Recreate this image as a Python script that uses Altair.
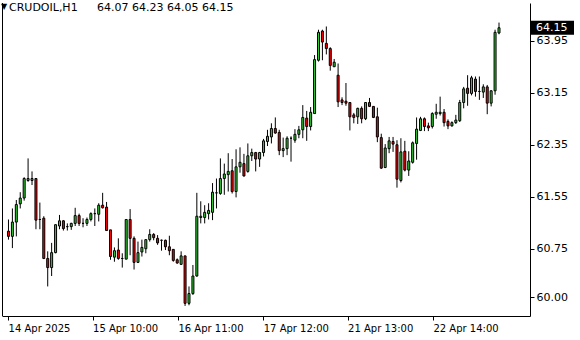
import altair as alt
import pandas as pd
import numpy as np

opens = [61.02, 60.94, 61.16, 61.44, 61.53, 61.80, 61.80, 61.83, 61.20, 61.22,
         60.60, 60.46, 60.69, 61.10, 61.18, 61.09, 61.09, 61.14, 61.26, 61.14,
         61.14, 61.20, 61.29, 61.28, 61.42, 61.39, 61.04, 60.62, 60.73, 60.60,
         60.59, 61.20, 60.91, 60.54, 60.70, 60.75, 60.89, 60.97, 60.91, 60.88,
         60.88, 60.78, 60.74, 60.58, 60.51, 60.64, 59.91, 60.06, 60.33, 61.23,
         61.23, 61.29, 61.31, 61.61, 61.60, 61.83, 61.89, 61.95, 61.63, 62.01,
         62.06, 61.94, 62.18, 62.23, 62.13, 62.23, 62.40, 62.47, 62.60, 62.54,
         62.26, 62.29, 62.45, 62.42, 62.51, 62.58, 62.76, 62.63, 62.83, 63.65,
         64.10, 63.91, 63.83, 63.55, 63.42, 63.04, 63.02, 63.00, 62.81, 62.78,
         62.91, 62.75, 63.00, 62.94, 62.78, 62.46, 62.00, 62.29, 62.40, 62.35,
         61.80, 62.25, 61.96, 62.08, 62.37, 62.57, 62.75, 62.64, 62.63, 62.82,
         62.83, 62.85, 62.71, 62.64, 62.69, 62.72, 63.00, 63.22, 63.14, 63.36,
         63.17, 63.16, 63.24, 62.99, 63.18, 64.07]
highs = [61.20, 61.37, 61.50, 61.62, 61.85, 62.14, 61.94, 61.83, 61.46, 61.25,
         60.71, 60.84, 61.12, 61.27, 61.19, 61.14, 61.15, 61.38, 61.29, 61.22,
         61.23, 61.31, 61.37, 61.45, 61.61, 61.47, 61.04, 60.77, 60.91, 60.68,
         61.20, 61.36, 60.94, 60.86, 60.89, 60.89, 61.05, 60.99, 60.96, 60.89,
         60.89, 60.95, 60.74, 60.60, 60.71, 60.64, 60.17, 60.50, 61.61, 61.48,
         61.42, 61.45, 61.76, 61.83, 62.14, 62.06, 62.22, 62.13, 62.28, 62.31,
         62.21, 62.37, 62.29, 62.24, 62.24, 62.44, 62.58, 62.68, 62.77, 62.58,
         62.46, 62.48, 62.48, 62.59, 62.64, 62.96, 62.87, 62.93, 63.73, 64.12,
         64.12, 64.17, 63.85, 63.67, 63.60, 63.08, 63.30, 63.00, 62.84, 62.92,
         62.94, 63.00, 63.07, 62.94, 62.92, 62.52, 62.36, 62.47, 62.47, 62.42,
         62.45, 62.41, 62.25, 62.40, 62.77, 62.78, 62.77, 62.69, 62.85, 62.98,
         63.09, 62.90, 62.74, 62.71, 62.81, 63.04, 63.24, 63.42, 63.41, 63.40,
         63.40, 63.28, 63.27, 63.19, 64.12, 64.23]
lows = [60.89, 60.76, 60.94, 61.37, 61.49, 61.78, 61.73, 61.05, 61.05, 60.59,
        60.17, 60.33, 60.68, 61.05, 61.03, 61.03, 61.04, 61.10, 61.10, 61.08,
        61.10, 61.17, 61.10, 61.17, 61.37, 61.03, 60.58, 60.55, 60.58, 60.46,
        60.59, 60.65, 60.43, 60.53, 60.63, 60.68, 60.86, 60.88, 60.81, 60.72,
        60.73, 60.65, 60.55, 60.52, 60.50, 59.87, 59.88, 60.04, 60.32, 61.14,
        61.14, 61.20, 61.19, 61.37, 61.58, 61.58, 61.63, 61.60, 61.54, 61.92,
        61.86, 61.92, 62.10, 61.94, 62.01, 62.17, 62.33, 62.37, 62.52, 62.19,
        62.16, 62.19, 62.09, 62.38, 62.45, 62.45, 62.41, 62.57, 62.83, 63.63,
        63.65, 63.74, 63.49, 63.55, 62.93, 62.96, 62.95, 62.57, 62.68, 62.67,
        62.68, 62.73, 62.93, 62.76, 62.39, 61.98, 61.99, 62.22, 62.24, 61.69,
        61.77, 61.94, 61.87, 62.06, 62.12, 62.56, 62.56, 62.56, 62.60, 62.75,
        62.80, 62.63, 62.59, 62.63, 62.67, 62.70, 62.91, 62.95, 63.11, 63.09,
        63.04, 63.07, 62.82, 62.94, 63.12, 64.05]
closes = [60.94, 61.16, 61.43, 61.53, 61.83, 61.83, 61.83, 61.19, 61.20, 60.60,
          60.46, 60.69, 61.12, 61.18, 61.06, 61.09, 61.14, 61.26, 61.14, 61.14,
          61.20, 61.29, 61.29, 61.42, 61.38, 61.03, 60.63, 60.72, 60.60, 60.60,
          61.20, 60.91, 60.54, 60.69, 60.77, 60.89, 60.97, 60.92, 60.84, 60.88,
          60.78, 60.72, 60.57, 60.53, 60.64, 59.91, 60.06, 60.33, 61.25, 61.25,
          61.31, 61.34, 61.62, 61.61, 61.83, 61.90, 61.94, 61.63, 62.01, 62.08,
          61.87, 62.18, 62.23, 62.13, 62.23, 62.41, 62.48, 62.60, 62.53, 62.26,
          62.29, 62.45, 62.45, 62.51, 62.58, 62.77, 62.63, 62.85, 63.66, 64.08,
          63.93, 63.83, 63.57, 63.62, 63.01, 63.00, 62.99, 62.78, 62.77, 62.91,
          62.75, 63.00, 62.94, 62.77, 62.47, 61.99, 62.30, 62.41, 62.36, 61.82,
          62.24, 61.96, 62.10, 62.38, 62.59, 62.75, 62.63, 62.61, 62.83, 62.85,
          62.85, 62.69, 62.64, 62.69, 62.73, 63.00, 63.21, 63.14, 63.38, 63.17,
          63.17, 63.24, 62.99, 63.18, 64.08, 64.15]

tick_pos = [-0.1, 21.42, 43.17, 64.92, 86.42, 108.17]
tick_labels = ["14 Apr 2025", "15 Apr 10:00", "16 Apr 11:00", "17 Apr 12:00",
               "21 Apr 13:00", "22 Apr 14:00"]
price_ticks = [60.00, 60.75, 61.55, 62.35, 63.15, 63.95]
symbol = "CRUDOIL,H1"
ohlc_text = "64.07 64.23 64.05 64.15"
last_price = 64.15

GREEN = "#32cd32"
RED = "#ff0000"
FONT = "DejaVu Sans"

df = pd.DataFrame({"i": np.arange(len(opens)), "open": opens, "high": highs,
                   "low": lows, "close": closes})
df["dir"] = np.where(df["close"] > df["open"], "up",
                     np.where(df["close"] < df["open"], "down", "flat"))

W, H = 528, 313
X0 = -0.375
xs = alt.Scale(domain=[X0, X0 + W / 4.0], nice=False, zero=False)
ys = alt.Scale(domain=[59.715, 64.531], nice=False, zero=False)

label_expr = "{}[indexof({}, datum.value)]".format(
    "[" + ",".join("'%s'" % t for t in tick_labels) + "]",
    "[" + ",".join(str(p) for p in tick_pos) + "]")

x_axis = alt.Axis(values=tick_pos, labelExpr=label_expr, title=None, grid=False,
                  domainColor="black", tickColor="black", tickSize=4,
                  labelAlign="left", labelFont=FONT, labelFontSize=10,
                  labelColor="black", labelPadding=3, labelFlush=False,
                  labelOverlap=False)
y_axis = alt.Axis(values=price_ticks, format=".2f", orient="right", title=None,
                  grid=False, domainColor="black", tickColor="black", tickSize=4,
                  labelFont=FONT, labelFontSize=11, labelColor="black",
                  labelPadding=2, labelFlush=False, labelOverlap=False)

base = alt.Chart(df)
wicks = base.mark_rule(color="black", strokeWidth=1).encode(
    x=alt.X("i:Q", scale=xs, axis=x_axis),
    y=alt.Y("low:Q", scale=ys, axis=y_axis),
    y2="high:Q",
)
bodies = base.mark_bar(size=2, stroke="black", strokeWidth=1).encode(
    x=alt.X("i:Q", scale=xs),
    y=alt.Y("open:Q", scale=ys),
    y2="close:Q",
    color=alt.Color("dir:N", scale=alt.Scale(domain=["up", "down", "flat"],
                                             range=[GREEN, RED, "black"]),
                    legend=None),
)

left_line = alt.Chart(df.head(1)).mark_rule(color="black", strokeWidth=1).encode(
    x=alt.value(0.5), y=alt.value(0), y2=alt.value(H))

lp = pd.DataFrame({"p": [last_price], "lo": [last_price - 0.108],
                   "hi": [last_price + 0.108], "t": ["%.2f" % last_price]})
box = alt.Chart(lp).mark_rect(color="black", clip=False).encode(
    x=alt.value(W + 1), x2=alt.value(W + 44),
    y=alt.Y("lo:Q", scale=ys), y2="hi:Q")
box_text = alt.Chart(lp).mark_text(color="white", font=FONT, fontSize=11,
                                   align="left", baseline="middle").encode(
    x=alt.value(W + 6), y=alt.Y("p:Q", scale=ys), text="t:N")

tri = alt.Chart(df.head(1)).mark_text(text="\u25bc", font=FONT, fontSize=8,
                                      color="black", align="left",
                                      baseline="middle").encode(
    x=alt.value(-1), y=alt.value(4))
name = alt.Chart(df.head(1)).mark_text(text=symbol, font=FONT, fontSize=11,
                                       color="black", align="left",
                                       baseline="middle").encode(
    x=alt.value(7), y=alt.value(4.5))
vals = alt.Chart(df.head(1)).mark_text(text=ohlc_text, font=FONT, fontSize=11,
                                       color="black", align="left",
                                       baseline="middle").encode(
    x=alt.value(95), y=alt.value(4.5))

chart = alt.layer(wicks, bodies, left_line, box, box_text, tri, name, vals).properties(
    width=W, height=H,
    autosize=alt.AutoSizeParams(type="none"),
    padding={"left": 2, "top": 3, "right": 580 - 2 - W, "bottom": 340 - 3 - H},
    background="white",
).configure_view(stroke=None)

chart.save("out.html", embed_options={"renderer": "svg", "actions": False})
